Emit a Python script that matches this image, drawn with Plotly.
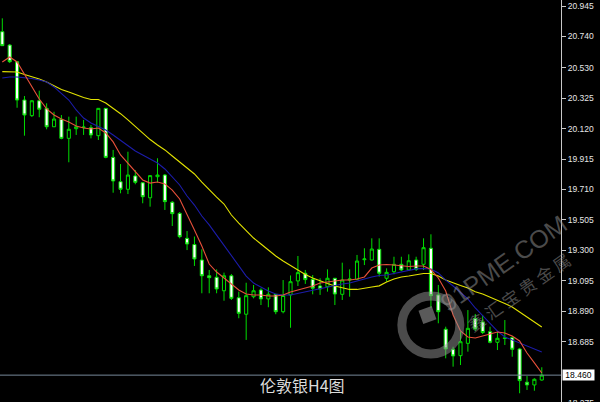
import plotly.graph_objects as go

# ---- data (London silver, H4) ----
opens = [20.772, 20.682, 20.570, 20.312, 20.207, 20.307, 20.256, 20.132, 20.182, 20.054,
         20.119, 20.127, 20.126, 20.072, 20.256, 19.926, 19.762, 19.711, 19.801, 19.755,
         19.654, 19.796, 19.807, 19.624, 19.549, 19.381, 19.339, 19.235, 19.129, 19.119,
         19.028, 19.129, 18.981, 18.870, 18.988, 19.033, 18.973, 19.004, 18.887, 19.000,
         19.094, 19.146, 19.105, 19.060, 19.055, 19.112, 19.004, 19.100, 19.105, 19.237,
         19.235, 19.307, 19.112, 19.156, 19.206, 19.168, 19.235, 19.206, 19.314, 19.000,
         18.769, 18.634, 18.591, 18.674, 18.841, 18.818, 18.752, 18.681, 18.707, 18.712,
         18.636, 18.412, 18.394, 18.427]
highs = [20.862, 20.689, 20.575, 20.339, 20.312, 20.375, 20.290, 20.233, 20.211, 20.200,
         20.200, 20.178, 20.144, 20.258, 20.258, 19.976, 19.881, 19.964, 19.841, 19.760,
         19.807, 19.920, 19.814, 19.632, 19.558, 19.430, 19.393, 19.307, 19.168, 19.172,
         19.150, 19.141, 19.022, 19.082, 19.067, 19.045, 19.051, 19.006, 19.100, 19.131,
         19.262, 19.168, 19.134, 19.112, 19.172, 19.114, 19.217, 19.172, 19.269, 19.314,
         19.381, 19.381, 19.179, 19.257, 19.257, 19.273, 19.257, 19.381, 19.408, 19.067,
         18.786, 18.651, 18.752, 18.898, 18.872, 18.865, 18.786, 18.752, 18.831, 18.723,
         18.643, 18.454, 18.439, 18.513]
lows = [20.676, 20.561, 20.260, 20.072, 20.198, 20.196, 20.115, 20.130, 20.048, 19.893,
        20.077, 20.077, 20.054, 20.043, 19.920, 19.688, 19.684, 19.679, 19.745, 19.617,
        19.594, 19.758, 19.572, 19.464, 19.381, 19.302, 19.195, 19.011, 19.011, 19.011,
        18.961, 18.966, 18.843, 18.697, 18.977, 18.932, 18.917, 18.870, 18.876, 18.779,
        19.060, 19.074, 19.004, 19.000, 19.022, 18.932, 18.966, 18.988, 19.100, 19.201,
        19.232, 19.123, 19.089, 19.139, 19.161, 19.161, 19.161, 19.168, 18.914, 18.809,
        18.573, 18.517, 18.528, 18.618, 18.757, 18.737, 18.674, 18.629, 18.663, 18.584,
        18.338, 18.360, 18.355, 18.423]
closes = [20.678, 20.570, 20.312, 20.211, 20.307, 20.250, 20.132, 20.184, 20.054, 20.115,
          20.132, 20.130, 20.077, 20.256, 19.926, 19.767, 19.711, 19.807, 19.758, 19.661,
          19.803, 19.807, 19.628, 19.547, 19.392, 19.343, 19.242, 19.129, 19.116, 19.040,
          19.129, 18.977, 18.876, 18.995, 19.028, 18.973, 19.004, 18.887, 18.996, 19.089,
          19.150, 19.103, 19.045, 19.040, 19.112, 19.006, 19.100, 19.107, 19.228, 19.242,
          19.309, 19.146, 19.152, 19.206, 19.168, 19.230, 19.172, 19.318, 18.995, 18.887,
          18.636, 18.589, 18.685, 18.775, 18.771, 18.747, 18.681, 18.708, 18.710, 18.634,
          18.423, 18.394, 18.432, 18.460]

ma_red = [20.568, 20.602, 20.568, 20.487, 20.400, 20.319, 20.252, 20.211, 20.184, 20.164,
          20.137, 20.124, 20.117, 20.124, 20.090, 20.030, 19.942, 19.888, 19.828, 19.774,
          19.753, 19.760, 19.747, 19.706, 19.646, 19.545, 19.437, 19.329, 19.208, 19.154,
          19.114, 19.074, 19.033, 19.006, 18.999, 18.999, 18.993, 18.993, 18.999, 19.020,
          19.033, 19.047, 19.060, 19.080, 19.087, 19.094, 19.100, 19.100, 19.107, 19.121,
          19.181, 19.201, 19.205, 19.201, 19.195, 19.191, 19.195, 19.195, 19.171, 19.114,
          19.026, 18.865, 18.757, 18.717, 18.710, 18.723, 18.737, 18.750, 18.744, 18.723,
          18.690, 18.609, 18.542, 18.474]
ma_blue = [20.460, 20.467, 20.467, 20.464, 20.457, 20.447, 20.433, 20.400, 20.359, 20.312,
           20.245, 20.191, 20.157, 20.134, 20.110, 20.077, 20.043, 20.009, 19.969, 19.942,
           19.915, 19.888, 19.848, 19.794, 19.740, 19.666, 19.605, 19.531, 19.471, 19.403,
           19.336, 19.262, 19.195, 19.127, 19.080, 19.053, 19.026, 19.006, 18.999, 18.999,
           19.010, 19.023, 19.033, 19.043, 19.057, 19.067, 19.074, 19.080, 19.094, 19.111,
           19.121, 19.131, 19.134, 19.144, 19.154, 19.164, 19.175, 19.178, 19.175, 19.148,
           19.100, 19.060, 19.013, 18.973, 18.912, 18.858, 18.811, 18.757, 18.717, 18.696,
           18.676, 18.656, 18.636, 18.616]
ma_yellow = [20.503, 20.503, 20.501, 20.484, 20.470, 20.454, 20.433, 20.406, 20.383, 20.366,
             20.346, 20.329, 20.316, 20.316, 20.292, 20.258, 20.220, 20.178, 20.134, 20.090,
             20.046, 20.009, 19.976, 19.935, 19.895, 19.854, 19.814, 19.760, 19.706, 19.659,
             19.612, 19.538, 19.484, 19.430, 19.383, 19.343, 19.302, 19.262, 19.228, 19.198,
             19.164, 19.137, 19.114, 19.094, 19.077, 19.060, 19.047, 19.037, 19.037, 19.047,
             19.053, 19.061, 19.087, 19.107, 19.121, 19.127, 19.134, 19.144, 19.144, 19.127,
             19.100, 19.080, 19.063, 19.047, 19.022, 19.006, 18.986, 18.966, 18.942, 18.919,
             18.885, 18.851, 18.818, 18.784]

tick_vals = [20.945, 20.740, 20.530, 20.325, 20.120, 19.915, 19.710, 19.505,
             19.300, 19.095, 18.890, 18.685]
tick_text = ["20.945", "20.740", "20.530", "20.325", "20.120", "19.915", "19.710",
             "19.505", "19.300", "19.095", "18.890", "18.685"]
bottom_tick = "18.275"
bid_price = 18.460
title_text = "伦敦银H4图"

bars = list(range(len(opens)))

fig = go.Figure()

for vals, col in [(ma_yellow, "#e2e200"), (ma_blue, "#1c1caa"), (ma_red, "#e8503a")]:
    fig.add_trace(go.Scatter(x=bars, y=vals, mode="lines",
                             line=dict(color=col, width=1.1), hoverinfo="skip",
                             showlegend=False))

fig.add_trace(go.Candlestick(
    x=bars, open=opens, high=highs, low=lows, close=closes,
    increasing=dict(line=dict(color="#00dd00", width=1), fillcolor="#000000"),
    decreasing=dict(line=dict(color="#00dd00", width=1), fillcolor="#ffffff"),
    whiskerwidth=0, hoverinfo="skip", showlegend=False))

gray_wm = "rgba(150,150,150,0.5)"

fig.update_layout(
    width=600, height=402,
    margin=dict(l=0, r=39, t=0, b=0),
    paper_bgcolor="#000000", plot_bgcolor="#000000",
    boxgap=0.4,
    showlegend=False,
    xaxis=dict(visible=False, range=[-0.311, 75.6], rangeslider=dict(visible=False),
               fixedrange=True),
    yaxis=dict(side="right", range=[18.2791, 20.9854], showgrid=False, zeroline=False,
               tickmode="array", tickvals=tick_vals, ticktext=tick_text,
               ticks="outside", ticklen=4, tickcolor="#c8c8c8",
               showline=True, linecolor="#c8c8c8", linewidth=1,
               tickfont=dict(family="Liberation Sans", size=8.5, color="#e6e6e6"),
               automargin=False, fixedrange=True),
    shapes=[
        dict(type="line", xref="paper", yref="y", x0=0, x1=1, y0=bid_price, y1=bid_price,
             line=dict(color="#778899", width=1), layer="above"),
        dict(type="circle", xref="paper", yref="paper", xsizemode="pixel", ysizemode="pixel",
             xanchor=0.768, yanchor=0.1915, x0=-29, x1=29, y0=-29, y1=29,
             line=dict(color=gray_wm, width=9), layer="above"),
        dict(type="path", xref="paper", yref="paper", xsizemode="pixel", ysizemode="pixel",
             xanchor=0.762, yanchor=0.2164,
             path="M 4.19 8.97 L -8.97 4.19 L -4.19 -8.97 L 8.97 -4.19 Z",
             fillcolor="rgba(150,150,150,0.6)", line=dict(width=0), layer="above"),
    ],
    annotations=[
        dict(text=f"{bid_price:.3f}", xref="paper", yref="y", x=1.0012, y=bid_price,
             xanchor="left", yanchor="middle", showarrow=False, bgcolor="#ffffff",
             font=dict(family="Liberation Sans", size=8.5, color="#000000"),
             width=31, height=10, borderpad=0),
        dict(text=bottom_tick, xref="paper", yref="paper", x=1.0085, y=-0.0015,
             xanchor="left", yanchor="middle", showarrow=False,
             font=dict(family="Liberation Sans", size=8.5, color="#e6e6e6")),
        dict(text=title_text, xref="paper", yref="paper", x=0.540, y=0.0423,
             xanchor="center", yanchor="middle", showarrow=False,
             font=dict(family="Noto Sans CJK SC", size=16, color="#dcdcdc")),
        dict(text="91PME.COM", xref="paper", yref="paper", x=0.898, y=0.345,
             xanchor="center", yanchor="middle", showarrow=False, textangle=-35,
             font=dict(family="Liberation Sans", size=25, color=gray_wm)),
        dict(text="鑫 汇 宝 贵 金 属", xref="paper", yref="paper", x=0.925, y=0.275,
             xanchor="center", yanchor="middle", showarrow=False, textangle=-35,
             font=dict(family="Noto Sans CJK SC", size=17, color=gray_wm)),
    ],
)

fig.write_html("out.html", config={"displayModeBar": False},
               post_script="document.body.style.margin='0';document.body.style.overflow='hidden';")
